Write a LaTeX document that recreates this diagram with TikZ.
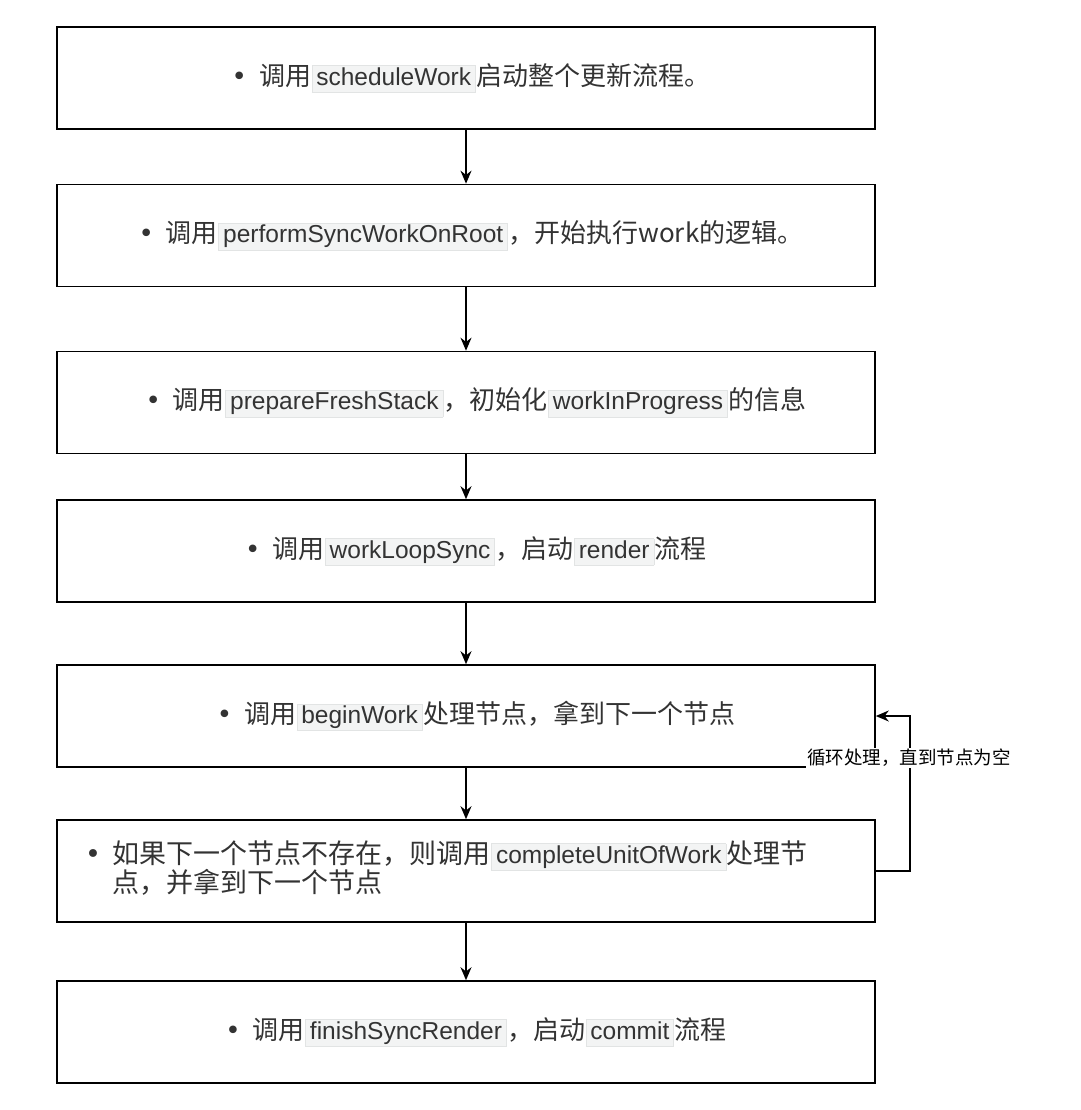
\documentclass[tikz,border=0pt]{standalone}
\usepackage{fontspec}
\setmainfont{Noto Sans CJK SC}
\newfontfamily\dv{DejaVu Sans}
\newfontfamily\cdfont{Liberation Sans}
\usetikzlibrary{arrows.meta}
\definecolor{cdfill}{HTML}{F3F4F4}
\definecolor{cdline}{HTML}{E2E4E4}
\definecolor{ink}{HTML}{333333}
\newcommand\cd[1]{\hspace{0.5pt}{\setlength\fboxsep{1pt}\setlength\fboxrule{0.7pt}\fcolorbox{cdline}{cdfill}{\cdfont\fontsize{24.5}{28}\selectfont\hspace{3pt}\rule[-0.24em]{0pt}{0.98em}#1\hspace{3pt}}}\hspace{0.5pt}}
\newcommand\bul{{\dv •}\hspace{12pt}}
\tikzset{
  box/.style={draw=black, line width=1.6pt, minimum width=818pt, minimum height=102pt, inner sep=0pt,
    font=\fontsize{26}{34}\selectfont, text=ink, align=center},
  arr/.style={draw=black, line width=1.5pt, -{Stealth[length=13pt,width=11pt]}},
  lbl/.style={fill=white, font=\fontsize{18.5}{22}\selectfont, text=black, inner sep=1pt}
}
\begin{document}
\begin{tikzpicture}[x=1pt,y=-1pt]
\useasboundingbox (0,0) rectangle (1080,1110);
\node[box] (b1) at (466,78) {\hspace{10pt}\bul 调用\cd{scheduleWork}启动整个更新流程。};
\node[box] (b2) at (466,235.5) {\hspace{10pt}\bul 调用\cd{performSyncWorkOnRoot}，开始执行work的逻辑。};
\node[box] (b3) at (466,402.5) {\hspace{20pt}\bul 调用\cd{prepareFreshStack}，初始化\cd{workInProgress}的信息};
\node[box] (b4) at (466,551) {\hspace{20pt}\bul 调用\cd{workLoopSync}，启动\cd{render}流程};
\node[box] (b5) at (466,716) {\hspace{20pt}\bul 调用\cd{beginWork}处理节点，拿到下一个节点};
\node[box, text width=770pt, align=left, font=\fontsize{27}{34}\selectfont] (b6) at (466,871) {\hspace{4pt}\raisebox{4pt}{\begin{tabular}{@{}l@{\hspace{12pt}}l@{}}{\dv •} & 如果下一个节点不存在，则调用\cd{completeUnitOfWork}处理节\\[-5pt] & 点，并拿到下一个节点\end{tabular}}};
\node[box] (b7) at (466,1032) {\hspace{20pt}\bul 调用\cd{finishSyncRender}，启动\cd{commit}流程};
\draw[arr] (b1) -- (b2);
\draw[arr] (b2) -- (b3);
\draw[arr] (b3) -- (b4);
\draw[arr] (b4) -- (b5);
\draw[arr] (b5) -- (b6);
\draw[arr] (b6) -- (b7);
\draw[arr] (b6.east) -- ++(34,0) |- (b5.east);
\node[lbl] (loop) at (909,758) {循环处理，直到节点为空};
\end{tikzpicture}
\end{document}
